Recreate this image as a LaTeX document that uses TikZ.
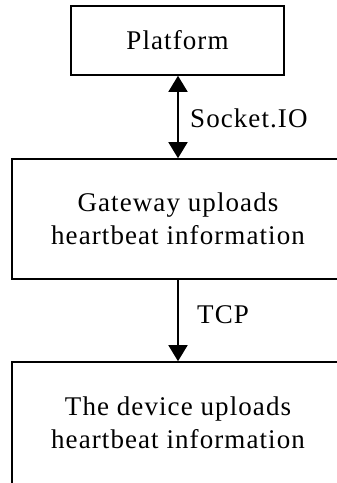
\documentclass[tikz,border=0pt]{standalone}
\usepackage{fontspec}
\setmainfont{Liberation Serif}[LetterSpace=4]
\usetikzlibrary{arrows.meta}
\begin{document}
\begin{tikzpicture}[x=1pt,y=1pt,
  box/.style={draw=black,line width=1.6pt,rectangle,align=center,inner sep=0pt,
    font=\fontsize{27}{33}\selectfont},
  tip/.tip={Triangle[width=19pt,length=16pt]},
  conn/.style={line width=1.6pt,-tip},
  lbl/.style={anchor=west,inner sep=0pt,font=\fontsize{27}{33}\selectfont}]
\useasboundingbox (0,0) rectangle (337,-483);
\clip (0,0) rectangle (337,-483);
\node[box,minimum width=213pt,minimum height=69pt] (plat) at (177.5,-40.5) {Platform};
\node[box,minimum width=332pt,minimum height=120pt] (gw) at (178,-219) {Gateway uploads\\heartbeat information};
\node[box,minimum width=332pt,minimum height=122pt] (dev) at (178,-423) {The device uploads\\heartbeat information};
\draw[conn,tip-tip] (gw.north |- plat.south) -- (gw.north);
\draw[conn] (gw.south) -- (dev.north);
\node[lbl] (sio) at (190,-118) {Socket.IO};
\node[lbl] (tcp) at (197,-315) {TCP};
\end{tikzpicture}
\end{document}
